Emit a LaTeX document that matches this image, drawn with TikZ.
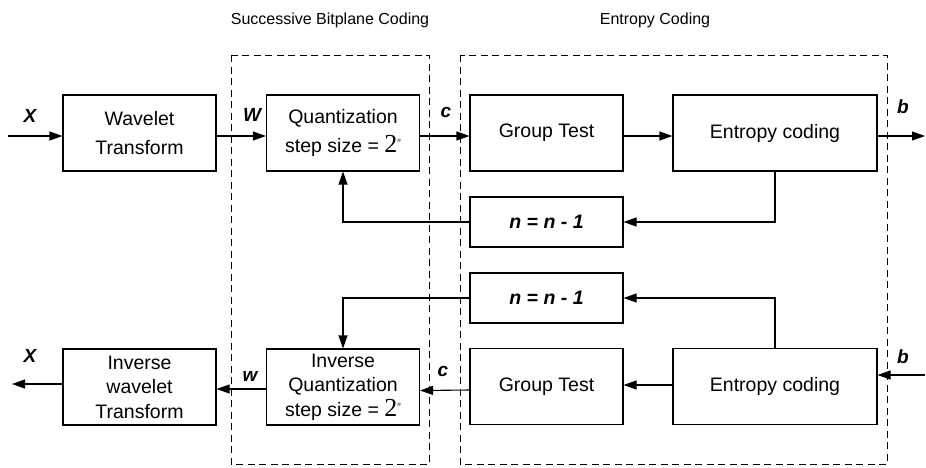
\documentclass[tikz,border=0pt]{standalone}
\usepackage{fontspec}
\setmainfont{Liberation Sans}
\newfontfamily\serifnum{Liberation Serif}
\usetikzlibrary{arrows.meta}
\newcommand{\stepsz}{step size = {\serifnum\fontsize{26}{24}\selectfont 2}\raisebox{10pt}{\serifnum\fontsize{7}{7}\selectfont\itshape n}}
\tikzset{
  blk/.style={draw, line width=1.1pt, rectangle, align=center, inner sep=0pt,
    font=\fontsize{19.5}{29}\selectfont},
  three/.style={font=\fontsize{19.5}{24.5}\selectfont},
  wide/.style={minimum width=153pt},
  wider/.style={minimum width=204pt},
  tall/.style={minimum height=76pt},
  flat/.style={minimum height=50pt},
  conn/.style={line width=1.1pt, -{Triangle[length=13pt,width=9pt]}},
  region/.style={draw, line width=1pt, dash pattern=on 7pt off 4.5pt},
  sig/.style={font=\fontsize{19}{19}\selectfont\bfseries\itshape},
  ttl/.style={font=\fontsize{16}{18}\selectfont},
  dec/.style={font=\fontsize{19.5}{22}\selectfont\bfseries\itshape},
}
\begin{document}
\begin{tikzpicture}[x=1pt, y=-1pt]
\useasboundingbox (0,0) rectangle (926,467);

% section frames
\draw[region] (231,55) rectangle (429,464);
\draw[region] (460,55) rectangle (887,464);
\node[ttl] (t1) at (330,20) {Successive Bitplane Coding};
\node[ttl] (t2) at (655,20) {Entropy Coding};

% encoder row
\node[blk, wide, tall] (wt) at (139.5,133) {Wavelet\\Transform};
\node[blk, wide, tall] (q) at (343,133) {Quantization\\\stepsz};
\node[blk, wide, tall] (gt) at (546.5,133) {Group Test};
\node[blk, wider, tall] (ec) at (775,133) {Entropy coding};
\node[blk, wide, flat, dec] (n1) at (546.5,222) {n = n - 1};

% decoder row
\node[blk, wide, flat, dec] (n2) at (546.5,298) {n = n - 1};
\node[blk, wide, tall] (gt2) at (546.5,386.5) {Group Test};
\node[blk, wider, tall] (ec2) at (775,386.5) {Entropy coding};
\node[blk, three, wide, tall] (iwt) at (139.5,387) {Inverse\\wavelet\\Transform};
\node[blk, three, wide, tall] (iq) at (343,387) {Inverse\\Quantization\\\stepsz};

% free ends
\coordinate (xin) at (8,136);
\coordinate (bout) at (925,136);
\coordinate (bin) at (925,375);
\coordinate (xout) at (12,384);

% encoder connectors
\draw[conn] (xin) -- (xin -| wt.west);
\draw[conn] ([yshift=-3pt]wt.east) -- ([yshift=-3pt]q.west);
\draw[conn] ([yshift=-3pt]q.east) -- ([yshift=-3pt]gt.west);
\draw[conn] ([yshift=-3pt]gt.east) -- ([yshift=-3pt]ec.west);
\draw[conn] (bout -| ec.east) -- (bout);
\draw[conn] (ec.south) |- (n1.east);
\draw[conn] (n1.west) -| (q.south);

% decoder connectors
\draw[conn] (bin) -- (bin -| ec2.east);
\draw[conn] ([yshift=1.5pt]ec2.west) -- ([yshift=1.5pt]gt2.east);
\draw[conn] (ec2.north) |- (n2.east);
\draw[conn] (n2.west) -| (iq.north);
\draw[conn] ([yshift=-3.5pt]gt2.west) -- ([yshift=-3.5pt]iq.east);
\draw[conn] ([yshift=-2pt]iq.west) -- ([yshift=-2pt]iwt.east);
\draw[conn] (xout -| iwt.west) -- (xout);

% signal labels
\node[sig] (lx1) at (30,116) {X};
\node[sig] (lw1) at (252,115) {W};
\node[sig] (lc1) at (446,112) {c};
\node[sig] (lb1) at (903,107) {b};
\node[sig] (lx2) at (30,356) {X};
\node[sig] (lw2) at (250,376) {w};
\node[sig] (lc2) at (443,371) {c};
\node[sig] (lb2) at (903,357) {b};
\end{tikzpicture}
\end{document}
